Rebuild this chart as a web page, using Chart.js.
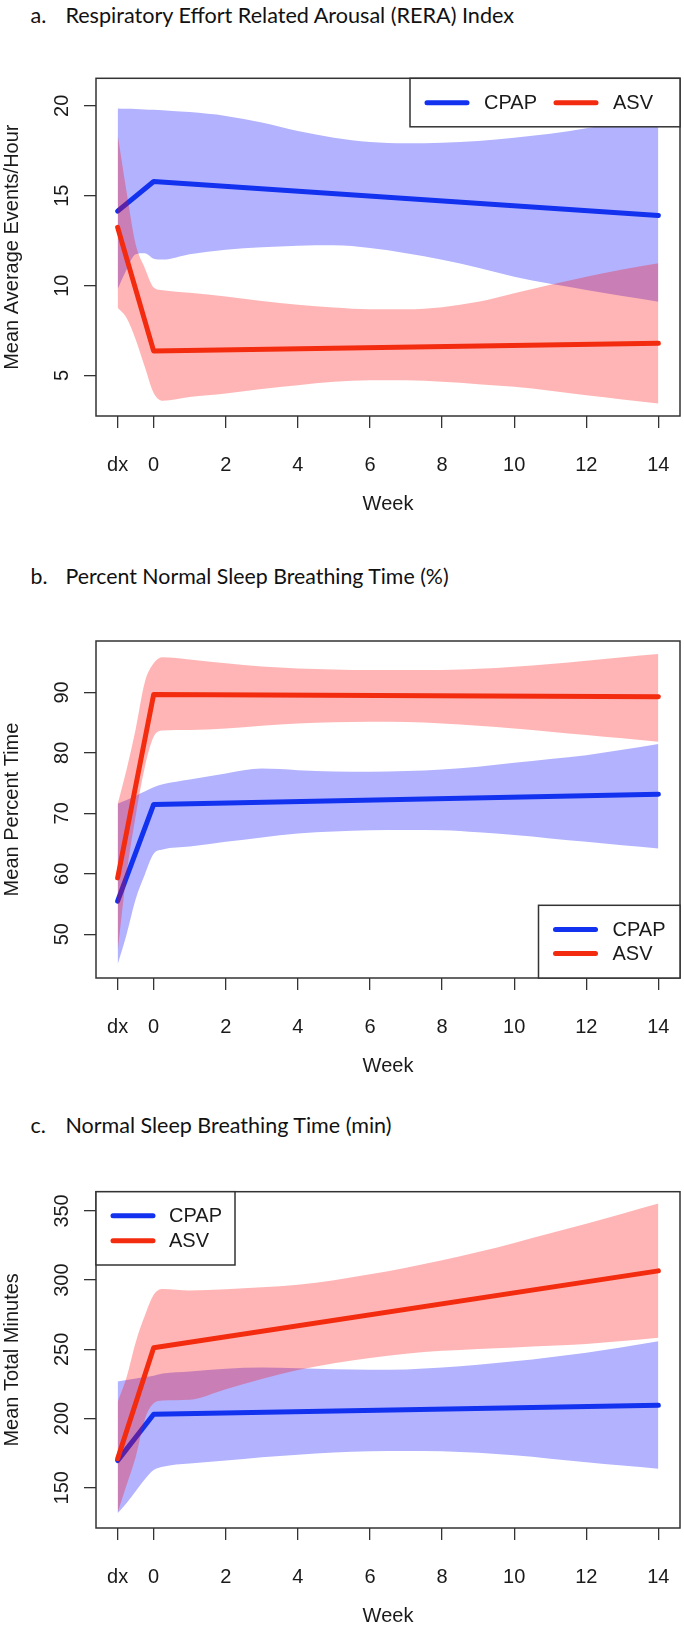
<!DOCTYPE html>
<html>
<head>
<meta charset="utf-8">
<script src="https://cdn.jsdelivr.net/npm/chart.js@4.4.0/dist/chart.umd.min.js"></script>
<style>
  html, body { margin: 0; padding: 0; background: #fff; }
  #page { position: relative; width: 684px; height: 1625px; overflow: hidden; background: #fff; }
  .ttl { position: absolute; font-family: Lato, "Open Sans", sans-serif; color: #111; white-space: nowrap; line-height: 1; }
  canvas { position: absolute; left: 0; }
</style>
</head>
<body>
<div id="page">
  <div class="ttl" id="ta0">a.</div><div class="ttl" id="ta1">Respiratory Effort Related Arousal (RERA) Index</div>
  <div class="ttl" id="tb0">b.</div><div class="ttl" id="tb1">Percent Normal Sleep Breathing Time (%)</div>
  <div class="ttl" id="tc0">c.</div><div class="ttl" id="tc1">Normal Sleep Breathing Time (min)</div>
  <canvas id="chartA" width="684" height="447" style="top:69px"></canvas>
  <canvas id="chartB" width="684" height="447" style="top:631px"></canvas>
  <canvas id="chartC" width="684" height="447" style="top:1181px"></canvas>
</div>
<script>
// weeks: "dx" (diagnostic night) is plotted at -1
const weekTicks = [-1, 0, 2, 4, 6, 8, 10, 12, 14];
const meanWeeks = [-1, 0, 14];
const bandWeeks = [-1, -0.75, -0.5, -0.25, 0, 0.25, 1, 2, 3, 4, 5, 6, 7, 8, 9, 10, 11, 12, 13, 14];
const groups = ['CPAP', 'ASV'];

// a. RERA index
const reraTicks = [5, 10, 15, 20];
const reraCpap = [14.14, 15.79, 13.9];
const reraAsv = [13.24, 6.36, 6.79];
const reraCpapHi = [19.85, 19.83, 19.82, 19.8, 19.78, 19.76, 19.65, 19.44, 19.07, 18.6, 18.23, 17.99, 17.92, 17.95, 18.05, 18.23, 18.45, 18.75, 19.2, 20.0];
const reraCpapLo = [9.8, 10.9, 11.75, 11.8, 11.5, 11.45, 11.75, 12.0, 12.13, 12.22, 12.24, 12.09, 11.8, 11.44, 11.0, 10.5, 10.1, 9.76, 9.42, 9.11];
const reraAsvHi = [18.4, 15.2, 12.3, 11.0, 9.9, 9.75, 9.6, 9.39, 9.15, 8.93, 8.78, 8.68, 8.68, 8.8, 9.1, 9.58, 10.05, 10.5, 10.9, 11.25];
const reraAsvLo = [8.77, 8.2, 7.0, 5.5, 4.03, 3.6, 3.81, 4.0, 4.25, 4.46, 4.65, 4.74, 4.74, 4.65, 4.52, 4.37, 4.15, 3.9, 3.67, 3.44];

// b. percent normal sleep breathing time
const pctTicks = [50, 60, 70, 80, 90];
const pctCpap = [55.46, 71.46, 73.17];
const pctAsv = [59.32, 89.67, 89.28];
const pctCpapHi = [71.6, 72.2, 72.9, 73.6, 74.3, 74.8, 75.6, 76.6, 77.4, 77.14, 76.9, 76.87, 77.0, 77.25, 77.7, 78.36, 79.0, 79.6, 80.5, 81.45];
const pctCpapLo = [45.0, 50.0, 55.8, 59.8, 63.3, 64.0, 64.5, 65.28, 66.0, 66.66, 67.0, 67.2, 67.25, 67.2, 66.85, 66.4, 65.85, 65.28, 64.7, 64.2];
const pctAsvHi = [71.5, 77.3, 83.9, 91.6, 94.8, 95.8, 95.46, 94.8, 94.3, 93.97, 93.8, 93.7, 93.7, 93.7, 93.9, 94.25, 94.7, 95.24, 95.8, 96.34];
const pctAsvLo = [47.0, 60.0, 69.5, 77.5, 82.65, 83.7, 83.8, 84.04, 84.5, 84.87, 85.05, 85.14, 85.1, 84.87, 84.5, 84.04, 83.5, 82.94, 82.4, 81.83];

// c. normal sleep breathing time (min)
const minTicks = [150, 200, 250, 300, 350];
const minCpap = [169.6, 203.1, 209.6];
const minAsv = [171.0, 251.1, 306.7];
const minCpapHi = [226.7, 227.8, 229.0, 230.0, 231.0, 232.5, 234.0, 236.0, 236.8, 236.3, 235.6, 235.2, 235.5, 236.8, 238.8, 241.3, 244.3, 247.6, 251.5, 255.9];
const minCpapLo = [131.5, 139.0, 147.5, 156.0, 162.8, 165.2, 167.5, 169.6, 172.0, 173.9, 175.5, 176.4, 176.6, 176.4, 175.2, 173.4, 171.0, 168.4, 166.0, 163.8];
const minAsvHi = [212.0, 230.0, 255.0, 274.0, 289.5, 293.6, 292.6, 293.4, 294.8, 296.7, 300.0, 304.2, 309.0, 314.3, 320.3, 326.9, 333.8, 340.7, 348.0, 355.3];
const minAsvLo = [132.0, 152.0, 172.0, 199.0, 211.0, 213.0, 213.6, 221.2, 228.5, 235.0, 240.0, 243.8, 246.8, 248.9, 250.3, 251.4, 252.6, 253.9, 256.0, 258.4];

const BLUE = '#1232f0';
const RED = '#f32c10';
const BLUE_BAND = 'rgba(0,0,255,0.3)';
const RED_BAND = 'rgba(255,0,0,0.29)';
const AXIS = '#333';
const TXT = '#1a1a1a';
const FONT = '"Liberation Sans", Arial, Helvetica, sans-serif';
const NONE = 'rgba(0,0,0,0)';

// titles: fit each to the width it has in the original
function placeTitle(id0, id1, baseline, width) {
  const ctx = document.createElement('canvas').getContext('2d');
  const el0 = document.getElementById(id0), el1 = document.getElementById(id1);
  ctx.font = '100px Lato';
  const size = 100 * width / ctx.measureText(el1.textContent).width;
  ctx.font = size + 'px Lato';
  const m = ctx.measureText('Hg');
  const asc = m.fontBoundingBoxAscent, desc = m.fontBoundingBoxDescent;
  const top = baseline - ((size - asc - desc) / 2 + asc);
  [el0, el1].forEach(el => { el.style.fontSize = size + 'px'; el.style.top = top + 'px'; });
  el0.style.left = '30.5px';
  el1.style.left = '65.4px';
}
placeTitle('ta0', 'ta1', 24, 450);
placeTitle('tb0', 'tb1', 584.7, 384);
placeTitle('tc0', 'tc1', 1134, 327);

function pts(xs, ys) {
  return xs.map((x, i) => ({ x: x, y: ys[i] }));
}

const boxPlugin = {
  id: 'box',
  afterDatasetsDraw(chart) {
    const a = chart.chartArea, ctx = chart.ctx;
    ctx.save();
    ctx.strokeStyle = AXIS;
    ctx.lineWidth = 1.5;
    ctx.strokeRect(a.left, a.top, a.right - a.left, a.bottom - a.top);
    ctx.restore();
  },
  afterDraw(chart, args, opts) {
    const a = chart.chartArea, ctx = chart.ctx, lg = opts.legend;
    // y tick labels, parallel to the axis (R style)
    const ys = chart.scales.y;
    ctx.save();
    ctx.font = '20px ' + FONT;
    ctx.fillStyle = TXT;
    ctx.textAlign = 'center';
    ctx.textBaseline = 'middle';
    ys.ticks.forEach(t => {
      ctx.save();
      ctx.translate(a.left - 34, ys.getPixelForValue(t.value));
      ctx.rotate(-Math.PI / 2);
      ctx.fillText(String(t.value), 0, 0);
      ctx.restore();
    });
    ctx.restore();
    if (!lg) return;
    const x0 = lg.anchor.indexOf('right') >= 0 ? a.right - lg.w : a.left;
    const y0 = lg.anchor.indexOf('bottom') >= 0 ? a.bottom - lg.h : a.top;
    ctx.save();
    ctx.fillStyle = '#fff';
    ctx.fillRect(x0, y0, lg.w, lg.h);
    ctx.strokeStyle = AXIS;
    ctx.lineWidth = 1.5;
    ctx.strokeRect(x0, y0, lg.w, lg.h);
    ctx.font = '20px ' + FONT;
    ctx.textBaseline = 'middle';
    ctx.textAlign = 'left';
    groups.forEach((g, i) => {
      const it = lg.items[i];
      ctx.strokeStyle = i === 0 ? BLUE : RED;
      ctx.lineWidth = 5;
      ctx.lineCap = 'round';
      ctx.beginPath();
      ctx.moveTo(x0 + it.lx, y0 + it.y);
      ctx.lineTo(x0 + it.lx + 40, y0 + it.y);
      ctx.stroke();
      ctx.fillStyle = TXT;
      ctx.fillText(g, x0 + it.tx, y0 + it.y + 1);
    });
    ctx.restore();
  }
};

function panel(id, p) {
  const band = (ys, color, fill, order) => ({
    data: pts(bandWeeks, ys), fill: fill, backgroundColor: color, borderColor: NONE, borderWidth: 1,
    pointRadius: 0, cubicInterpolationMode: 'monotone', order: order
  });
  const mean = (ys, color, order) => ({
    data: pts(meanWeeks, ys), fill: false, borderColor: color, borderWidth: 5, pointRadius: 0,
    borderCapStyle: 'round', borderJoinStyle: 'round', tension: 0, order: order
  });
  new Chart(document.getElementById(id), {
    type: 'line',
    data: {
      datasets: [
        band(p.cpapHi, BLUE_BAND, '+1', 10),
        band(p.cpapLo, NONE, false, 10),
        mean(p.cpap, BLUE, 8),
        band(p.asvHi, RED_BAND, '+1', 6),
        band(p.asvLo, NONE, false, 6),
        mean(p.asv, RED, 4)
      ]
    },
    options: {
      responsive: false,
      animation: false,
      layout: { padding: { top: p.padTop, right: 4, left: 0, bottom: 0 } },
      plugins: {
        legend: { display: false },
        tooltip: { enabled: false },
        box: { legend: p.legend }
      },
      scales: {
        x: {
          type: 'linear', min: -1.6, max: 14.6,
          afterBuildTicks: s => { s.ticks = weekTicks.map(v => ({ value: v })); },
          afterFit: s => { s.height = 100; s.paddingLeft = 0; s.paddingRight = 0; },
          grid: { drawOnChartArea: false, drawTicks: true, tickLength: 12, color: AXIS, lineWidth: 1.3 },
          border: { display: false },
          ticks: {
            padding: 25, color: TXT, font: { family: FONT, size: 20 }, maxRotation: 0, autoSkip: false,
            callback: v => (v === -1 ? 'dx' : String(v))
          },
          title: { display: true, text: 'Week', color: TXT, font: { family: FONT, size: 20 }, padding: { top: 0, bottom: 0 } }
        },
        y: {
          type: 'linear', min: p.yMin, max: p.yMax,
          afterBuildTicks: s => { s.ticks = p.yTicks.map(v => ({ value: v })); },
          afterFit: s => { s.width = 96; s.paddingTop = 0; s.paddingBottom = 0; },
          grid: { drawOnChartArea: false, drawTicks: true, tickLength: 12, color: AXIS, lineWidth: 1.3 },
          border: { display: false },
          ticks: { display: false },
          title: { display: true, text: p.yTitle, color: TXT, font: { family: FONT, size: 20 }, padding: 0 }
        }
      }
    },
    plugins: [boxPlugin]
  });
}

panel('chartA', {
  cpap: reraCpap, asv: reraAsv, cpapHi: reraCpapHi, cpapLo: reraCpapLo, asvHi: reraAsvHi, asvLo: reraAsvLo,
  yTicks: reraTicks, yMin: 2.75, yMax: 21.53, yTitle: 'Mean Average Events/Hour', padTop: 9.3,
  legend: { anchor: 'topright', w: 270, h: 48.5, items: [{ lx: 17, tx: 74, y: 24.5 }, { lx: 146, tx: 203, y: 24.5 }] }
});
panel('chartB', {
  cpap: pctCpap, asv: pctAsv, cpapHi: pctCpapHi, cpapLo: pctCpapLo, asvHi: pctAsvHi, asvLo: pctAsvLo,
  yTicks: pctTicks, yMin: 42.76, yMax: 98.5, yTitle: 'Mean Percent Time', padTop: 10,
  legend: { anchor: 'bottomright', w: 141.5, h: 72.7, items: [{ lx: 17, tx: 74, y: 24.3 }, { lx: 17, tx: 74, y: 48.3 }] }
});
panel('chartC', {
  cpap: minCpap, asv: minAsv, cpapHi: minCpapHi, cpapLo: minCpapLo, asvHi: minAsvHi, asvLo: minAsvLo,
  yTicks: minTicks, yMin: 120.9, yMax: 363.9, yTitle: 'Mean Total Minutes', padTop: 10.7,
  legend: { anchor: 'topleft', w: 139, h: 73.3, items: [{ lx: 17, tx: 73, y: 24 }, { lx: 17, tx: 73, y: 49 }] }
});
</script>
</body>
</html>
